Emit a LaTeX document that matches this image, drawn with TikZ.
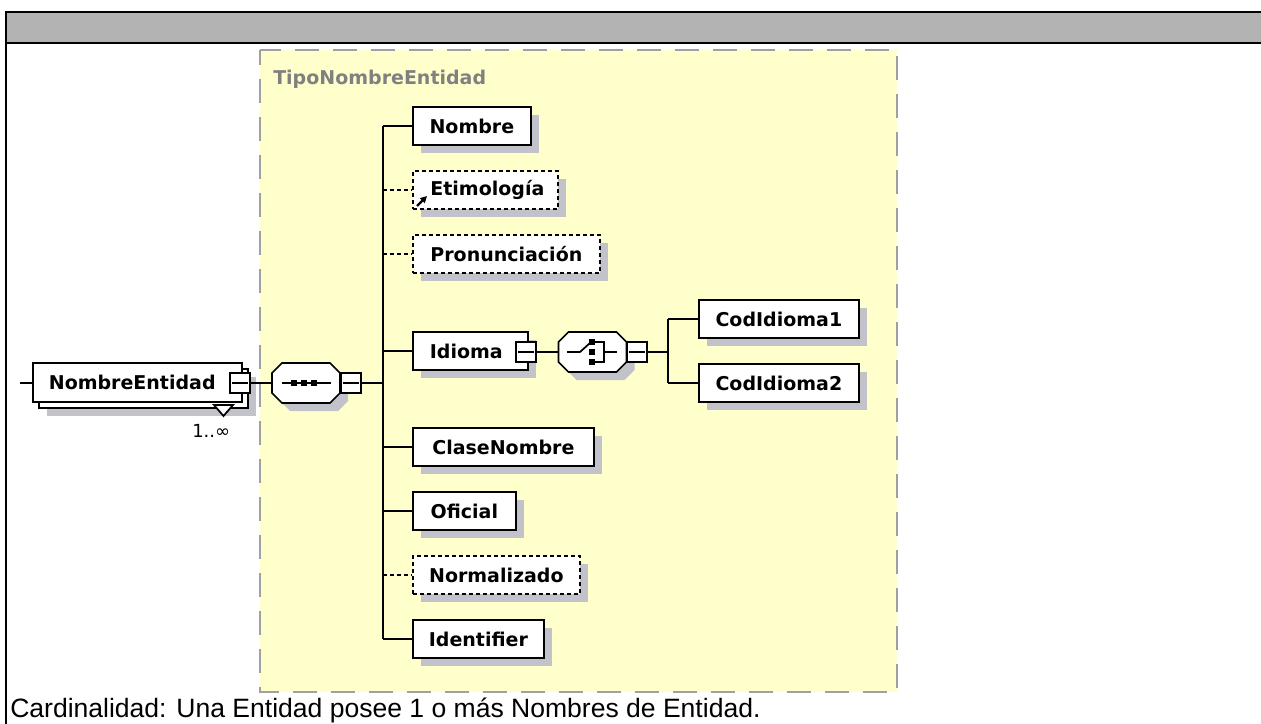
\documentclass[tikz,border=0pt]{standalone}
\usepackage{fontspec}
\setmainfont{Liberation Sans}
\newfontfamily\dejavu{DejaVu Sans}
\usetikzlibrary{shadows,arrows.meta}
\definecolor{band}{RGB}{179,179,179}
\definecolor{yel}{RGB}{255,255,204}
\definecolor{ydash}{RGB}{160,160,160}
\definecolor{shc}{RGB}{194,194,202}
\definecolor{tgrey}{RGB}{128,128,128}
\newcommand{\myoctagon}[2]{(#1-24,#2-20) -- (#1+24,#2-20) -- (#1+34,#2-10) -- (#1+34,#2+10) -- (#1+24,#2+20) -- (#1-24,#2+20) -- (#1-34,#2+10) -- (#1-34,#2-10) -- cycle}
\begin{document}
\begin{tikzpicture}[x=0.75pt,y=-0.75pt,
  lbl/.style={font=\dejavu\bfseries\fontsize{14.25pt}{17pt}\selectfont},
  shad/.style={drop shadow={shadow xshift=6pt,shadow yshift=-6pt,fill=shc,opacity=1}},
  plainbox/.style={lbl,draw=black,line width=1.3pt,fill=white,minimum height=28.5pt,inner sep=0pt,anchor=west},
  elem/.style={plainbox,shad},
  optelem/.style={elem,dash pattern=on 3pt off 2.25pt},
  minusbox/.style={draw=black,line width=1.3pt,fill=white,minimum size=15pt,inner sep=0pt},
  conn/.style={line width=1.3pt},
  optconn/.style={conn,dash pattern=on 3pt off 2.25pt},
  octnode/.style={minimum width=51pt,minimum height=30pt,inner sep=0pt},
  octline/.style={draw=black,line width=1.3pt,fill=white}
]
\useasboundingbox (0,0) rectangle (1261,724);
\fill[white] (0,0) rectangle (1261,724);
% header frame
\fill[band] (6,12) rectangle (1262,43);
\draw[line width=1.5pt] (1262,12) -- (6,12) -- (6,726);
\draw[line width=1.5pt] (6,43) -- (1262,43);
% complex type area
\draw[fill=yel,draw=ydash,line width=1.5pt,dash pattern=on 18pt off 10.5pt,dash phase=7pt] (260,50) rectangle (897,692);
\node[lbl,text=tgrey,anchor=base west,inner sep=0pt] (tipo) at (273,85) {TipoNombreEntidad};

% root element
\node[elem,minimum width=156.75pt,minimum height=29.25pt] (ne2) at (38,388.5) {};
\draw[line width=1.3pt,fill=white] (214,405) -- (233,405) -- (223.5,416) -- cycle;
\node[plainbox,minimum height=29.25pt,text width=132.75pt,inner xsep=12pt,align=left] (ne) at (32,382.5) {NombreEntidad};
\node[minusbox] (nem) at (240,383) {};
\draw[conn] ([xshift=2.5pt]nem.west) -- ([xshift=-2.5pt]nem.east);
\coordinate (lead) at (20,383);
\draw[conn] (lead) -- (ne.west |- lead);
\node[font=\dejavu\fontsize{13.5pt}{16pt}\selectfont,anchor=base west,inner sep=0pt] (card) at (192,437) {1..∞};

% sequence
\fill[shc] \myoctagon{314}{391};
\node[octnode] (seq) at (306,383) {};
\path[octline] \myoctagon{306}{383};
\draw[conn] (282,383) -- (331,383);
\foreach \xx in {294,304,314} \fill (\xx-3,380) rectangle (\xx+3,386);
\node[minusbox] (seqm) at (351,383) {};
\draw[conn] ([xshift=2.5pt]seqm.west) -- ([xshift=-2.5pt]seqm.east);
\draw[conn] (nem.east) -- (seq.west);

% children
\node[elem,minimum width=88.5pt] (nombre) at (412,126) {Nombre};
\node[optelem,minimum width=108.75pt] (etim) at (412,190) {\hspace*{3pt}Etimología};
\draw[-{Triangle[length=5pt,width=5pt]},line width=1.6pt] (417,206) -- (427,196);
\node[optelem,minimum width=140.25pt] (pron) at (412,254) {Pronunciación};
\node[elem,text width=60.75pt,inner xsep=12.75pt,align=left] (idioma) at (412,351) {Idioma};
\node[minusbox] (idm) at (526,352) {};
\draw[conn] ([xshift=2.5pt]idm.west) -- ([xshift=-2.5pt]idm.east);
\node[elem,minimum width=135.75pt] (clase) at (412,447) {ClaseNombre};
\node[elem,minimum width=77.25pt] (oficial) at (412,511) {Oficial};
\node[optelem,minimum width=125.25pt] (norm) at (412,575) {Normalizado};
\node[elem,minimum width=98.25pt] (ident) at (412,639) {Identifier};

% bus 1
\coordinate (b1top) at (383,126);
\coordinate (b1bot) at (383,639);
\draw[conn] (b1top) -- (b1bot);
\draw[conn] (seqm.east) -- (seqm.east -| b1top);
\draw[conn] (nombre.west -| b1top) -- (nombre.west);
\draw[optconn] (etim.west -| b1top) -- (etim.west);
\draw[optconn] (pron.west -| b1top) -- (pron.west);
\draw[conn] (idioma.west -| b1top) -- (idioma.west);
\draw[conn] (clase.west -| b1top) -- (clase.west);
\draw[conn] (oficial.west -| b1top) -- (oficial.west);
\draw[optconn] (norm.west -| b1top) -- (norm.west);
\draw[conn] (ident.west -| b1top) -- (ident.west);

% choice
\fill[shc] \myoctagon{600.5}{360};
\node[octnode] (cho) at (592.5,352) {};
\path[octline] \myoctagon{592.5}{352};
\draw[conn] (567,352) -- (580,352) -- (590,343);
\foreach \yy in {342,352,362} \fill (589,\yy-3) rectangle (595,\yy+3);
\draw[conn] (595,342) -- (604,342) -- (604,362) -- (595,362);
\draw[conn] (604,352) -- (617,352);
\node[minusbox] (chm) at (637,352) {};
\draw[conn] ([xshift=2.5pt]chm.west) -- ([xshift=-2.5pt]chm.east);
\draw[conn] (idm.east) -- (cho.west);

\node[elem,minimum width=120pt] (cod1) at (698,319) {CodIdioma1};
\node[elem,minimum width=120pt] (cod2) at (698,383) {CodIdioma2};
\coordinate (b2top) at (668,319);
\coordinate (b2bot) at (668,383);
\draw[conn] (b2top) -- (b2bot);
\draw[conn] (chm.east) -- (chm.east -| b2top);
\draw[conn] (b2top) -- (cod1.west);
\draw[conn] (b2bot) -- (cod2.west);

% caption
\node[font=\fontsize{19.9pt}{24pt}\selectfont,anchor=base west,inner sep=0pt] (cap) at (10,717) {Cardinalidad: Una Entidad posee 1 o más Nombres de Entidad.};
\end{tikzpicture}
\end{document}
